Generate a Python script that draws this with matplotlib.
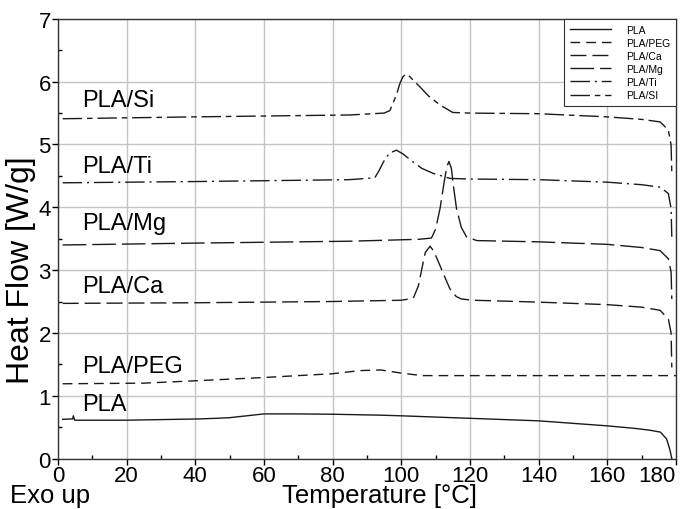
#!/usr/bin/env python3
"""
DSC curves (heat flow vs temperature) for PLA and PLA composites.
"""
import matplotlib
matplotlib.use('Agg')
import matplotlib.pyplot as plt
from matplotlib.ticker import MultipleLocator

plt.rcParams['font.family'] = ['Liberation Sans', 'DejaVu Sans']

# data: temperature [°C], heat flow [W/g]
pla_t = [1.4, 4.3, 4.5, 4.9, 20, 41, 46, 50, 55, 60, 70, 80, 94, 100, 120, 140,
         160, 168, 172.5, 175.5, 177.3, 178.2, 178.8]
pla_v = [0.625, 0.63, 0.68, 0.61, 0.61, 0.63, 0.64, 0.65, 0.68, 0.71, 0.71, 0.705,
         0.69, 0.68, 0.64, 0.60, 0.52, 0.48, 0.45, 0.42, 0.31, 0.15, 0.0]

peg_t = [1.4, 25, 41, 60, 80, 88, 94, 100, 106, 120, 150, 180]
peg_v = [1.19, 1.20, 1.24, 1.29, 1.35, 1.40, 1.41, 1.36, 1.32, 1.32, 1.32, 1.32]

ca_t = [1.4, 40, 80, 100, 103.5, 105, 106, 107, 108.4, 109.5, 111.3, 113, 114.2,
        116, 117.5, 121, 140, 160, 170, 175.4, 177.8, 178.6, 178.8]
ca_v = [2.47, 2.48, 2.50, 2.52, 2.55, 2.75, 3.02, 3.28, 3.38, 3.30, 3.07, 2.85, 2.70,
        2.58, 2.54, 2.52, 2.49, 2.45, 2.41, 2.36, 2.22, 2.0, 1.45]

mg_t = [1.4, 40, 85, 105, 108.8, 110, 111.3, 112.5, 113.3, 113.9, 114.6, 115.3,
        116.1, 117.5, 119, 122, 140, 160, 170, 175.4, 177.8, 178.6, 178.8]
mg_v = [3.40, 3.43, 3.46, 3.49, 3.51, 3.65, 3.98, 4.40, 4.65, 4.73, 4.62, 4.30,
        3.98, 3.68, 3.53, 3.47, 3.45, 3.41, 3.36, 3.31, 3.18, 2.97, 2.54]

ti_t = [1.4, 40, 85, 92.3, 93.5, 94.8, 96.5, 98.6, 100.5, 103.5, 106, 109.3, 114.2,
        120, 140, 160, 170, 175.4, 177.8, 178.6, 178.8]
ti_v = [4.39, 4.41, 4.44, 4.47, 4.58, 4.72, 4.86, 4.91, 4.85, 4.72, 4.62, 4.54, 4.46,
        4.45, 4.44, 4.40, 4.36, 4.32, 4.22, 3.98, 3.53]

si_t = [1.4, 40, 85, 95, 96.7, 98.6, 99.6, 100.5, 101.4, 102.5, 105.4, 108, 111.3,
        115, 120, 140, 160, 170, 175.4, 177.8, 178.6, 178.8]
si_v = [5.41, 5.44, 5.47, 5.50, 5.54, 5.79, 5.97, 6.08, 6.12, 6.08, 5.92, 5.77, 5.63,
        5.51, 5.50, 5.49, 5.44, 5.40, 5.36, 5.23, 4.99, 4.54]

names = ['PLA', 'PLA/PEG', 'PLA/Ca', 'PLA/Mg', 'PLA/Ti', 'PLA/SI']
curve_labels = ['PLA', 'PLA/PEG', 'PLA/Ca', 'PLA/Mg', 'PLA/Ti', 'PLA/Si']
label_y = [0.70, 1.30, 2.57, 3.57, 4.49, 5.53]
xticks = [0, 20, 40, 60, 80, 100, 120, 140, 160, 180]


def main():
    fig = plt.figure(figsize=(6.89, 5.10), dpi=100)
    ax = fig.add_axes([0.084, 0.099, 0.897, 0.862])

    col = '#1a1a1a'
    series = [(pla_t, pla_v), (peg_t, peg_v), (ca_t, ca_v),
              (mg_t, mg_v), (ti_t, ti_v), (si_t, si_v)]
    dashes = [None, (7, 4.3), (11.5, 4.3), (17, 4.3),
              (14, 3.5, 1.5, 3.5), (14, 3.5, 4, 3.5)]

    for (t, v), name, d in zip(series, names, dashes):
        line, = ax.plot(t, v, color=col, lw=1.0, label=name)
        if d is not None:
            line.set_dashes(d)

    for txt, yy in zip(curve_labels, label_y):
        ax.text(7.0, yy, txt, fontsize=17, ha='left', va='bottom', color='black')

    ax.set_xlim(0, 180)
    ax.set_ylim(0, 7)
    ax.set_xticks(xticks)
    ax.xaxis.set_minor_locator(MultipleLocator(10))
    ax.yaxis.set_major_locator(MultipleLocator(1))
    ax.yaxis.set_minor_locator(MultipleLocator(0.5))
    ax.grid(True, which='major', color='#c4c4c4', lw=1.0)
    ax.set_axisbelow(True)
    ax.tick_params(which='major', direction='out', length=4, width=1,
                   labelsize=16, pad=1)
    ax.tick_params(which='minor', direction='in', length=3, width=1)
    for s in ax.spines.values():
        s.set_color('#333333')
        s.set_linewidth(1.0)

    # last x tick label kept inside the figure, as in the original
    ax.xaxis.get_major_ticks()[-1].label1.set_horizontalalignment('right')

    ax.set_xlabel('Temperature [°C]', fontsize=18.5, va='top')
    ax.xaxis.set_label_coords(0.521, -0.056)
    ax.set_ylabel('Heat Flow [W/g]', fontsize=23)
    ax.yaxis.set_label_coords(-0.036, 0.43)
    fig.text(0.0145, 0.014, 'Exo up', fontsize=18.5, ha='left', va='baseline')

    leg = ax.legend(loc='upper right', fontsize=7.5, handlelength=4.0,
                    labelspacing=0.3, borderpad=0.55, handletextpad=1.4,
                    fancybox=False, framealpha=1, borderaxespad=0)
    leg.get_frame().set_edgecolor('#333333')
    leg.get_frame().set_linewidth(0.8)

    plt.savefig('out.png', dpi=100)


if __name__ == '__main__':
    main()
